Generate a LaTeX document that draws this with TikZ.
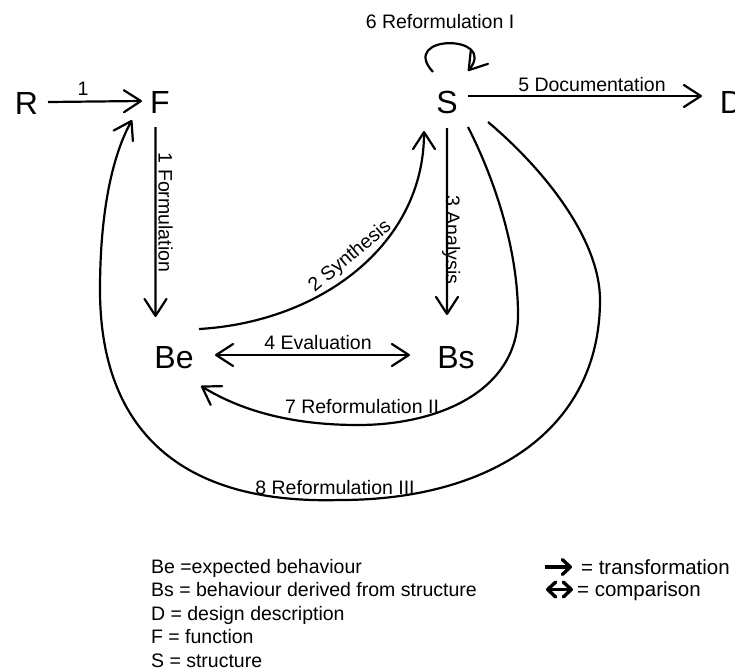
\documentclass[tikz,border=0pt]{standalone}
\usepackage{fontspec}
\setmainfont{Liberation Sans}
\usetikzlibrary{arrows.meta}

\begin{document}
\begin{tikzpicture}[x=10pt,y=10pt,line width=2.2pt,>={Straight Barb[round,length=17pt,width=22pt]},
	var/.style={font=\fontsize{32}{34}\selectfont,text height=23pt,text depth=0pt},
	lab/.style={font=\fontsize{19.5}{22}\selectfont,text height=14pt,text depth=0pt},
	key/.style={lab,anchor=west},
	keyarrow/.style={line width=3.4pt,>={Straight Barb[round,length=8pt,width=15pt]}}]
					\tikzstyle{every node}+=[inner sep=0pt]
					\useasboundingbox (0,0) rectangle (73.5,-67);
					\node [var] (R) at (2.65,-10.3) {R};
					\node [var] (F) at (16.0,-10.2) {F};
					\node [var] (S) at (44.7,-10.2) {S};
					\node [var] (D) at (73.15,-10.2) {D};
					\node [var] (Be) at (17.4,-35.7) {Be};
					\node [var] (Bs) at (45.6,-35.7) {Bs};
					\draw [->] ([shift={(2.15,0.1)}]R.center) -- ([shift={(-1.8,0.1)}]F.center);
					\node [lab] (l1) at (8.3,-8.85) {1};
					\draw [->] ([shift={(-0.45,-2.5)}]F.center) -- ([shift={(-1.85,4.0)}]Be.center);
					\node [lab,rotate=-90] (lform) at (16.55,-21.25) {1 Formulation};
					\draw [->] ([shift={(2.5,2.8)}]Be.center) .. controls (32.0,-32.2) and (42.4,-24.5) .. ([shift={(-2.3,-2.9)}]S.center);
					\node [lab,rotate=40] (lsyn) at (34.9,-25.5) {2 Synthesis};
					\draw [->] ([shift={(0,-2.6)}]S.center) -- ([shift={(-0.9,4.2)}]Bs.center);
					\node [lab,rotate=-90] (lana) at (45.3,-24.0) {3 Analysis};
					\draw [<->] ([shift={(4.1,0.2)}]Be.center) -- ([shift={(-4.6,0.2)}]Bs.center);
					\node [lab] (leva) at (31.8,-34.2) {4 Evaluation};
					\draw [->] ([shift={(2.1,0.6)}]S.center) -- ([shift={(-2.95,0.6)}]D.center);
					\node [lab] (ldoc) at (59.2,-8.4) {5 Documentation};
					\draw [->] ([shift={(-1.4,3.0)}]S.center) .. controls (39.8,-3.4) and (49.8,-3.4) .. ([shift={(2.1,3.1)}]S.center);
					\node [lab] (lref1) at (44.0,-2.1) {6 Reformulation I};
					\draw [->] ([shift={(2.1,-2.5)}]S.center) .. controls (49.5,-18.0) and (51.8,-25.0) .. (51.8,-31.5)
						.. controls (51.8,-39.0) and (44.0,-42.5) .. (35.8,-42.5)
						.. controls (29.0,-42.5) and (24.0,-41.0) .. ([shift={(2.7,-2.9)}]Be.center);
					\node [lab] (lref2) at (36.2,-40.6) {7 Reformulation II};
					\draw [->] ([shift={(4.1,-2.0)}]S.center) .. controls (54.5,-17.0) and (60.0,-24.0) .. (60.0,-30.0)
						.. controls (60.0,-43.0) and (49.0,-50.0) .. (34.0,-50.0)
						.. controls (17.0,-50.5) and (10.0,-42.0) .. (10.0,-29.0)
						.. controls (10.0,-22.0) and (11.0,-16.0) .. ([shift={(-2.8,-1.8)}]F.center);
					\node [lab] (lref3) at (33.5,-48.75) {8 Reformulation III};
					\node [key] (kBe) at (15.0,-56.6) {Be =expected behaviour};
					\node [key] (kBs) at (15.0,-58.95) {Bs = behaviour derived from structure};
					\node [key] (kD) at (15.0,-61.3) {D = design description};
					\node [key] (kF) at (15.0,-63.65) {F = function};
					\node [key] (kS) at (15.0,-66.0) {S = structure};
					\node [key,font=\fontsize{20.5}{22}\selectfont] (ktrans) at (58.0,-56.7) {= transformation};
					\node [key,font=\fontsize{20.5}{22}\selectfont] (kcomp) at (57.6,-58.95) {= comparison};
					\draw [keyarrow,->] ([xshift=-35pt]ktrans.west) -- ([xshift=-8pt]ktrans.west);
					\draw [keyarrow,<->] ([xshift=-30pt]kcomp.west) -- ([xshift=-3pt]kcomp.west);
				\end{tikzpicture}
\end{document}
